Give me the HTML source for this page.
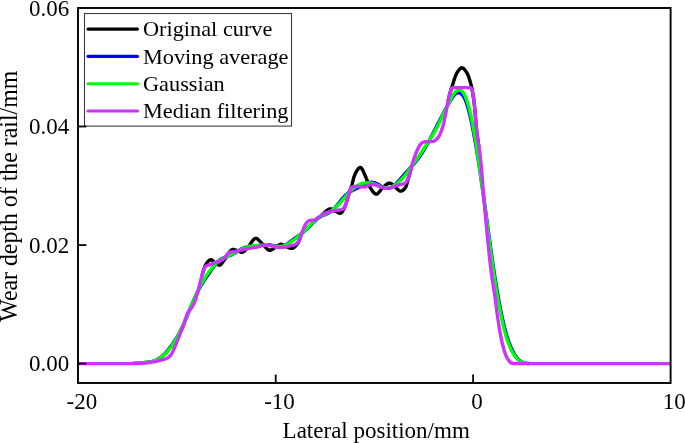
<!DOCTYPE html>
<html><head><meta charset="utf-8"><title>Wear depth</title>
<style>
html,body{margin:0;padding:0;background:#fff;}
body{width:685px;height:443px;overflow:hidden;position:relative;font-family:"Liberation Serif",serif;}
svg{position:absolute;left:0;top:0;display:block;}
text{font-family:"Liberation Serif",serif;font-size:23px;fill:#000;}
.lg text{font-size:21.55px;}
.c{fill:none;stroke-width:3.4;stroke-linejoin:round;stroke-linecap:butt;}
</style></head><body>
<svg width="685" height="443" viewBox="0 0 685 443">
<rect x="0" y="0" width="685" height="443" fill="#fff"/>
<clipPath id="cp"><rect x="78.0" y="8.0" width="592.6" height="375.0"/></clipPath>
<g clip-path="url(#cp)">
<path class="c" stroke="#000000" d="M202.0,275.57 L203.0,272.09 L204.0,268.90 L205.0,266.16 L206.0,264.26 L207.0,262.75 L208.0,261.46 L209.0,260.45 L210.0,259.83 L211.0,259.69 L212.0,260.11 L213.0,260.93 L214.0,261.87 L215.0,262.69 L216.0,263.40 L217.0,264.12 L218.0,264.73 L219.0,265.09 L220.0,265.01 L221.0,264.30 L222.0,263.10 L223.0,261.67 L224.0,260.26 L225.0,258.95 L226.0,257.53 L227.0,255.95 L228.0,254.33 L229.0,252.78 L230.0,251.41 L231.0,250.32 L232.0,249.65 L233.0,249.44 L234.0,249.56 L235.0,249.82 L236.0,250.17 L237.0,250.53 L238.0,250.90 L239.0,251.36 L240.0,251.84 L241.0,252.21 L242.0,252.35 L243.0,252.08 L244.0,251.41 L245.0,250.48 L246.0,249.43 L247.0,248.39 L248.0,247.29 L249.0,245.98 L250.0,244.50 L251.0,242.97 L252.0,241.51 L253.0,240.21 L254.0,239.18 L255.0,238.54 L256.0,238.37 L257.0,238.70 L258.0,239.40 L259.0,240.36 L260.0,241.44 L261.0,242.52 L262.0,243.50 L263.0,244.47 L264.0,245.56 L265.0,246.71 L266.0,247.83 L267.0,248.83 L268.0,249.62 L269.0,250.12 L270.0,250.25 L271.0,250.03 L272.0,249.57 L273.0,248.94 L274.0,248.26 L275.0,247.60 L276.0,246.99 L277.0,246.31 L278.0,245.59 L279.0,244.94 L280.0,244.45 L281.0,244.25 L282.0,244.42 L283.0,244.90 L284.0,245.53 L285.0,246.14 L286.0,246.61 L287.0,247.01 L288.0,247.41 L289.0,247.76 L290.0,248.05 L291.0,248.23 L292.0,248.25 L293.0,247.99 L294.0,247.42 L295.0,246.59 L296.0,245.56 L297.0,244.39 L298.0,242.93 L299.0,240.80 L300.0,238.19 L301.0,235.49 M321.0,215.56 L322.0,214.81 L323.0,214.02 L324.0,213.14 L325.0,212.16 L326.0,211.20 L327.0,210.42 L328.0,209.78 L329.0,209.23 L330.0,208.90 L331.0,208.89 L332.0,209.20 L333.0,209.73 L334.0,210.34 L335.0,210.93 L336.0,211.46 L337.0,212.01 L338.0,212.56 L339.0,213.01 L340.0,213.23 L341.0,212.97 L342.0,212.00 L343.0,210.46 L344.0,208.58 L345.0,206.47 L346.0,203.75 L347.0,200.46 L348.0,197.05 L349.0,193.59 L350.0,190.42 L351.0,187.82 L352.0,184.68 L353.0,180.53 L354.0,176.81 L355.0,174.34 L356.0,172.33 L357.0,170.55 L358.0,169.09 L359.0,168.05 L360.0,167.53 L361.0,167.74 L362.0,168.85 L363.0,170.68 L364.0,172.90 L365.0,175.20 L366.0,177.50 L367.0,180.14 L368.0,182.91 L369.0,185.36 L370.0,187.24 L371.0,188.86 L372.0,190.40 L373.0,191.78 L374.0,192.92 L375.0,193.73 L376.0,194.11 L377.0,193.98 L378.0,193.33 L379.0,192.29 L380.0,191.04 L381.0,189.72 L382.0,188.51 L383.0,187.53 L384.0,186.64 L385.0,185.72 L386.0,184.84 L387.0,184.06 L388.0,183.46 L389.0,183.11 L390.0,183.10 L391.0,183.49 L392.0,184.21 L393.0,185.11 L394.0,186.06 L395.0,186.94 L396.0,187.77 L397.0,188.71 L398.0,189.65 L399.0,190.46 L400.0,190.99 L401.0,191.14 L402.0,190.89 L403.0,190.29 L404.0,189.38 L405.0,188.21 L406.0,186.56 L407.0,183.40 L408.0,179.54 L409.0,176.25 L410.0,172.86 L411.0,168.77 M448.0,101.55 L449.0,96.86 L450.0,93.01 L451.0,89.75 L452.0,86.67 L453.0,83.49 L454.0,80.27 L455.0,77.26 L456.0,74.71 L457.0,72.79 L458.0,71.25 L459.0,69.88 L460.0,68.75 L461.0,68.01 L462.0,67.78 L463.0,68.11 L464.0,68.93 L465.0,70.11 L466.0,71.53 L467.0,73.12 L468.0,75.11 L469.0,77.71 L470.0,80.90 L471.0,84.62 L472.0,88.97 L473.0,94.66 L474.0,101.44 L475.0,111.16 L476.0,124.12 L477.0,133.78 L478.0,140.96 L479.0,147.44"/>
<path class="c" stroke="#0000ff" d="M132.0,363.41 L133.0,363.37 L134.0,363.33 L135.0,363.29 L136.0,363.23 L137.0,363.18 L138.0,363.11 L139.0,363.05 L140.0,362.97 L141.0,362.89 L142.0,362.80 L143.0,362.70 L144.0,362.60 L145.0,362.49 L146.0,362.37 L147.0,362.25 L148.0,362.11 L149.0,361.96 L150.0,361.80 L151.0,361.61 L152.0,361.40 L153.0,361.14 L154.0,360.84 L155.0,360.48 L156.0,360.07 L157.0,359.59 L158.0,359.04 L159.0,358.43 L160.0,357.76 L161.0,357.03 L162.0,356.23 L163.0,355.37 L164.0,354.45 L165.0,353.45 L166.0,352.38 L167.0,351.23 L168.0,350.01 L169.0,348.72 L170.0,347.40 L171.0,346.05 L172.0,344.67 L173.0,343.26 L174.0,341.81 L175.0,340.32 L176.0,338.78 L177.0,337.17 L178.0,335.49 L179.0,333.71 L180.0,331.85 L181.0,329.89 L182.0,327.84 L183.0,325.69 L184.0,323.46 L185.0,321.15 L186.0,318.78 L187.0,316.36 L188.0,313.91 L189.0,311.44 L190.0,308.97 L191.0,306.51 L192.0,304.09 L193.0,301.73 L194.0,299.44 L195.0,297.24 L196.0,295.12 L197.0,293.09 L198.0,291.15 L199.0,289.28 L200.0,287.50 L201.0,285.77 L202.0,284.10 L203.0,282.47 L204.0,280.89 L205.0,279.35 L206.0,277.85 L207.0,276.39 L208.0,274.94 L209.0,273.49 L210.0,272.03 L211.0,270.56 L212.0,269.10 L213.0,267.66 L214.0,266.27 L215.0,264.94 L216.0,263.70 L217.0,262.56 L218.0,261.52 L219.0,260.59 L220.0,259.77 L221.0,259.06 L222.0,258.47 L223.0,257.96 L224.0,257.54 L225.0,257.17 L226.0,256.83 L227.0,256.49 L228.0,256.17 L229.0,255.84 L230.0,255.49 L231.0,255.11 L232.0,254.68 L233.0,254.19 L234.0,253.63 L235.0,253.03 L236.0,252.39 L237.0,251.72 L238.0,251.04 L239.0,250.36 L240.0,249.71 L241.0,249.11 L242.0,248.57 L243.0,248.09 L244.0,247.68 L245.0,247.33 L246.0,247.04 L247.0,246.82 L248.0,246.67 L249.0,246.59 L250.0,246.56 L251.0,246.56 L252.0,246.57 L253.0,246.58 L254.0,246.57 L255.0,246.53 L256.0,246.47 L257.0,246.38 L258.0,246.27 L259.0,246.13 L260.0,245.95 L261.0,245.75 M267.0,244.91 L268.0,244.90 L269.0,244.94 L270.0,245.03 L271.0,245.16 L272.0,245.34 L273.0,245.55 L274.0,245.78 L275.0,246.02 L276.0,246.24 L277.0,246.43 L278.0,246.57 L279.0,246.65 L280.0,246.65 L281.0,246.56 L282.0,246.37 L283.0,246.09 L284.0,245.71 L285.0,245.22 L286.0,244.65 L287.0,244.01 L288.0,243.31 L289.0,242.58 L290.0,241.82 L291.0,241.06 L292.0,240.30 L293.0,239.56 L294.0,238.83 L295.0,238.12 L296.0,237.42 L297.0,236.72 L298.0,236.02 L299.0,235.33 L300.0,234.62 L301.0,233.90 L302.0,233.16 L303.0,232.38 L304.0,231.57 L305.0,230.72 L306.0,229.83 L307.0,228.91 L308.0,227.95 L309.0,226.97 L310.0,225.97 L311.0,224.95 L312.0,223.93 L313.0,222.92 L314.0,221.94 L315.0,220.99 L316.0,220.09 L317.0,219.23 L318.0,218.43 L319.0,217.70 L320.0,217.05 L321.0,216.48 L322.0,215.98 L323.0,215.54 L324.0,215.12 L325.0,214.71 L326.0,214.29 L327.0,213.84 L328.0,213.33 L329.0,212.74 L330.0,212.08 L331.0,211.33 L332.0,210.52 L333.0,209.63 L334.0,208.65 L335.0,207.57 L336.0,206.43 L337.0,205.25 L338.0,204.04 L339.0,202.82 L340.0,201.58 L341.0,200.33 L342.0,199.11 L343.0,197.93 L344.0,196.81 L345.0,195.77 L346.0,194.82 L347.0,193.94 L348.0,193.14 L349.0,192.44 L350.0,191.80 L351.0,191.22 L352.0,190.68 L353.0,190.16 L354.0,189.66 L355.0,189.18 L356.0,188.71 L357.0,188.24 L358.0,187.76 L359.0,187.25 L360.0,186.72 L361.0,186.17 L362.0,185.61 L363.0,185.05 L364.0,184.52 L365.0,184.02 L366.0,183.58 L367.0,183.19 L368.0,182.87 L369.0,182.62 L370.0,182.44 L371.0,182.33 L372.0,182.31 L373.0,182.41 L374.0,182.62 L375.0,182.93 L376.0,183.30 L377.0,183.75 L378.0,184.25 L379.0,184.80 L380.0,185.39 L381.0,185.99 L382.0,186.56 L383.0,187.08 L384.0,187.53 L385.0,187.90 L386.0,188.18 L387.0,188.36 L388.0,188.40 L389.0,188.28 L390.0,188.02 L391.0,187.63 L392.0,187.11 L393.0,186.44 L394.0,185.65 L395.0,184.76 L396.0,183.79 L397.0,182.76 L398.0,181.68 L399.0,180.56 L400.0,179.43 L401.0,178.29 L402.0,177.14 L403.0,175.99 L404.0,174.85 L405.0,173.72 L406.0,172.60 L407.0,171.51 L408.0,170.42 L409.0,169.35 L410.0,168.27 L411.0,167.18 L412.0,166.07 L413.0,164.94 L414.0,163.78 L415.0,162.58 L416.0,161.36 L417.0,160.09 L418.0,158.78 L419.0,157.42 L420.0,156.00 L421.0,154.55 L422.0,153.04 L423.0,151.48 L424.0,149.87 L425.0,148.19 L426.0,146.44 L427.0,144.65 L428.0,142.83 L429.0,140.95 L430.0,139.03 L431.0,137.11 L432.0,135.21 L433.0,133.30 L434.0,131.40 L435.0,129.48 L436.0,127.54 L437.0,125.60 L438.0,123.65 L439.0,121.72 L440.0,119.78 L441.0,117.85 L442.0,115.91 L443.0,113.98 L444.0,112.06 L445.0,110.16 L446.0,108.28 L447.0,106.45 L448.0,104.65 L449.0,102.90 L450.0,101.22 L451.0,99.61 L452.0,98.09 L453.0,96.69 L454.0,95.43 L455.0,94.35 L456.0,93.50 L457.0,93.00 L458.0,92.82 L459.0,92.88 L460.0,93.17 L461.0,93.70 L462.0,94.51 L463.0,95.68 L464.0,97.28 L465.0,99.33 L466.0,101.81 L467.0,104.72 L468.0,108.03 L469.0,111.74 L470.0,115.81 L471.0,120.20 L472.0,124.90 L473.0,129.89 L474.0,135.14 L475.0,140.62 L476.0,146.34 L477.0,152.29 L478.0,158.49 L479.0,164.92 L480.0,171.54 L481.0,178.34 L482.0,185.29 L483.0,192.36 L484.0,199.52 L485.0,206.74 L486.0,214.02 L487.0,221.34 L488.0,228.65 L489.0,235.94 L490.0,243.19 L491.0,250.37 L492.0,257.46 L493.0,264.42 L494.0,271.19 L495.0,277.70 L496.0,283.89 L497.0,289.83 L498.0,295.59 L499.0,301.19 L500.0,306.59 L501.0,311.75 L502.0,316.61 L503.0,321.14 L504.0,325.35 L505.0,329.27 L506.0,332.92 L507.0,336.29 L508.0,339.39 L509.0,342.24 L510.0,344.85 L511.0,347.25 L512.0,349.45 L513.0,351.49 L514.0,353.38 L515.0,355.08 L516.0,356.58 L517.0,357.88 L518.0,359.00 L519.0,359.96 L520.0,360.76 L521.0,361.43 L522.0,361.97 L523.0,362.41 L524.0,362.76 L525.0,363.02 L526.0,363.22 L527.0,363.36 L528.0,363.47 L529.0,363.53"/>
<path class="c" stroke="#00ff00" d="M132.0,363.43 L133.0,363.39 L134.0,363.36 L135.0,363.31 L136.0,363.27 L137.0,363.21 L138.0,363.15 L139.0,363.09 L140.0,363.02 L141.0,362.94 L142.0,362.85 L143.0,362.76 L144.0,362.66 L145.0,362.55 L146.0,362.43 L147.0,362.30 L148.0,362.16 L149.0,362.01 L150.0,361.84 L151.0,361.64 L152.0,361.41 L153.0,361.15 L154.0,360.85 L155.0,360.50 L156.0,360.11 L157.0,359.67 L158.0,359.18 L159.0,358.64 L160.0,358.03 L161.0,357.37 L162.0,356.65 L163.0,355.85 L164.0,354.99 L165.0,354.05 L166.0,353.02 L167.0,351.93 L168.0,350.77 L169.0,349.55 L170.0,348.26 L171.0,346.92 L172.0,345.52 L173.0,344.05 L174.0,342.52 L175.0,340.93 L176.0,339.26 L177.0,337.51 L178.0,335.69 L179.0,333.79 L180.0,331.82 L181.0,329.77 L182.0,327.65 L183.0,325.47 L184.0,323.22 L185.0,320.93 L186.0,318.59 L187.0,316.22 L188.0,313.82 L189.0,311.40 L190.0,308.97 L191.0,306.55 L192.0,304.15 L193.0,301.78 L194.0,299.46 L195.0,297.18 L196.0,294.95 L197.0,292.79 L198.0,290.69 L199.0,288.66 L200.0,286.70 L201.0,284.79 L202.0,282.94 L203.0,281.16 L204.0,279.43 L205.0,277.78 L206.0,276.19 L207.0,274.66 L208.0,273.20 L209.0,271.80 L210.0,270.45 L211.0,269.15 L212.0,267.90 L213.0,266.70 L214.0,265.57 L215.0,264.50 L216.0,263.49 L217.0,262.55 L218.0,261.68 L219.0,260.89 L220.0,260.16 L221.0,259.50 L222.0,258.90 L223.0,258.35 L224.0,257.84 L225.0,257.36 L226.0,256.90 L227.0,256.46 L228.0,256.02 L229.0,255.58 L230.0,255.13 L231.0,254.66 L232.0,254.18 L233.0,253.68 L234.0,253.15 L235.0,252.61 L236.0,252.06 L237.0,251.50 L238.0,250.94 L239.0,250.39 L240.0,249.86 L241.0,249.34 L242.0,248.85 L243.0,248.39 L244.0,247.97 L245.0,247.59 L246.0,247.25 L247.0,246.95 L248.0,246.70 L249.0,246.48 L250.0,246.29 L251.0,246.13 L252.0,246.00 L253.0,245.89 L254.0,245.79 L255.0,245.70 L256.0,245.62 L257.0,245.54 L258.0,245.47 L259.0,245.40 L260.0,245.33 L261.0,245.28 L262.0,245.24 L263.0,245.21 L264.0,245.20 L265.0,245.22 L266.0,245.25 L267.0,245.31 L268.0,245.38 L269.0,245.48 L270.0,245.59 L271.0,245.71 L272.0,245.85 L273.0,245.98 L274.0,246.12 L275.0,246.25 L276.0,246.37 L277.0,246.46 L278.0,246.51 L279.0,246.51 L280.0,246.46 L281.0,246.34 L282.0,246.16 L283.0,245.91 L284.0,245.60 L285.0,245.22 L286.0,244.79 L287.0,244.31 L288.0,243.77 L289.0,243.19 L290.0,242.57 L291.0,241.91 L292.0,241.22 L293.0,240.51 L294.0,239.77 L295.0,239.01 L296.0,238.23 L297.0,237.42 L298.0,236.58 L299.0,235.73 L300.0,234.85 L301.0,233.96 L302.0,233.05 L303.0,232.12 L304.0,231.17 L305.0,230.19 L306.0,229.21 L307.0,228.21 L308.0,227.20 L309.0,226.20 L310.0,225.20 L311.0,224.22 L312.0,223.26 L313.0,222.32 L314.0,221.42 L315.0,220.55 L316.0,219.73 L317.0,218.95 L318.0,218.22 L319.0,217.53 L320.0,216.90 L321.0,216.31 L322.0,215.77 L323.0,215.25 L324.0,214.77 L325.0,214.29 L326.0,213.82 L327.0,213.33 L328.0,212.82 L329.0,212.28 L330.0,211.70 L331.0,211.08 L332.0,210.39 L333.0,209.64 L334.0,208.83 L335.0,207.95 L336.0,207.02 L337.0,206.03 L338.0,205.00 L339.0,203.92 L340.0,202.80 L341.0,201.65 L342.0,200.49 L343.0,199.32 L344.0,198.15 L345.0,196.98 L346.0,195.84 L347.0,194.72 L348.0,193.64 L349.0,192.60 L350.0,191.59 L351.0,190.63 L352.0,189.72 L353.0,188.86 L354.0,188.05 L355.0,187.30 L356.0,186.60 L357.0,185.96 L358.0,185.37 L359.0,184.84 L360.0,184.36 L361.0,183.94 L362.0,183.57 L363.0,183.27 L364.0,183.04 L365.0,182.87 L366.0,182.76 L367.0,182.72 L368.0,182.74 L369.0,182.82 L370.0,182.95 L371.0,183.14 L372.0,183.38 L373.0,183.65 L374.0,183.96 L375.0,184.31 L376.0,184.68 L377.0,185.06 L378.0,185.45 L379.0,185.84 L380.0,186.22 L381.0,186.58 L382.0,186.91 L383.0,187.20 L384.0,187.45 L385.0,187.63 L386.0,187.74 L387.0,187.77 L388.0,187.72 L389.0,187.58 L390.0,187.35 L391.0,187.03 L392.0,186.63 L393.0,186.15 L394.0,185.59 L395.0,184.96 L396.0,184.25 L397.0,183.47 L398.0,182.62 L399.0,181.71 L400.0,180.75 L401.0,179.74 L402.0,178.67 L403.0,177.57 L404.0,176.42 L405.0,175.23 L406.0,174.00 L407.0,172.73 L408.0,171.43 L409.0,170.10 L410.0,168.75 L411.0,167.37 L412.0,165.97 L413.0,164.56 L414.0,163.12 L415.0,161.68 L416.0,160.22 L417.0,158.77 L418.0,157.31 L419.0,155.85 L420.0,154.39 L421.0,152.93 L422.0,151.47 L423.0,150.01 L424.0,148.53 L425.0,147.03 L426.0,145.51 L427.0,143.96 L428.0,142.39 L429.0,140.80 L430.0,139.20 L431.0,137.59 L432.0,135.94 L433.0,134.27 L434.0,132.56 L435.0,130.81 L436.0,129.00 L437.0,127.14 L438.0,125.24 L439.0,123.28 L440.0,121.28 L441.0,119.23 L442.0,117.15 L443.0,115.04 L444.0,112.90 L445.0,110.76 L446.0,108.61 L447.0,106.48 L448.0,104.38 L449.0,102.32 L450.0,100.33 L451.0,98.42 L452.0,96.64 L453.0,94.99 L454.0,93.52 L455.0,92.30 L456.0,91.34 L457.0,90.62 L458.0,90.14 L459.0,89.93 L460.0,90.01 L461.0,90.43 L462.0,91.22 L463.0,92.40 L464.0,93.97 L465.0,95.95 L466.0,98.35 L467.0,101.17 L468.0,104.40 L469.0,108.06 L470.0,112.11 L471.0,116.54 L472.0,121.33 L473.0,126.44 L474.0,131.88 L475.0,137.64 L476.0,143.71 L477.0,150.07 L478.0,156.69 L479.0,163.54 L480.0,170.60 L481.0,177.84 L482.0,185.23 L483.0,192.74 L484.0,200.33 L485.0,207.99 L486.0,215.66 L487.0,223.33 L488.0,230.97 L489.0,238.54 L490.0,246.03 L491.0,253.40 L492.0,260.62 L493.0,267.68 L494.0,274.54 L495.0,281.18 L496.0,287.57 L497.0,293.67 L498.0,299.46 L499.0,304.99 L500.0,310.26 L501.0,315.27 L502.0,320.01 L503.0,324.45 L504.0,328.58 L505.0,332.39 L506.0,335.90 L507.0,339.13 L508.0,342.09 L509.0,344.79 L510.0,347.24 L511.0,349.45 L512.0,351.44 L513.0,353.23 L514.0,354.84 L515.0,356.28 L516.0,357.55 L517.0,358.67 L518.0,359.62 L519.0,360.43 L520.0,361.11 L521.0,361.68 L522.0,362.14 L523.0,362.51 L524.0,362.80 L525.0,363.03 L526.0,363.21 L527.0,363.34 L528.0,363.43 L529.0,363.50"/>
<path class="c" stroke="#cc33ff" d="M78.0,363.60 L79.0,363.60 L80.0,363.60 L81.0,363.60 L82.0,363.60 L83.0,363.60 L84.0,363.60 L85.0,363.60 L86.0,363.60 L87.0,363.60 L88.0,363.60 L89.0,363.60 L90.0,363.60 L91.0,363.60 L92.0,363.60 L93.0,363.60 L94.0,363.60 L95.0,363.60 L96.0,363.60 L97.0,363.60 L98.0,363.60 L99.0,363.60 L100.0,363.60 L101.0,363.60 L102.0,363.60 L103.0,363.60 L104.0,363.60 L105.0,363.60 L106.0,363.60 L107.0,363.60 L108.0,363.60 L109.0,363.60 L110.0,363.60 L111.0,363.60 L112.0,363.60 L113.0,363.60 L114.0,363.60 L115.0,363.60 L116.0,363.60 L117.0,363.60 L118.0,363.60 L119.0,363.60 L120.0,363.60 L121.0,363.60 L122.0,363.60 L123.0,363.60 L124.0,363.60 L125.0,363.60 L126.0,363.60 L127.0,363.60 L128.0,363.60 L129.0,363.60 L130.0,363.60 L131.0,363.60 L132.0,363.60 L133.0,363.60 L134.0,363.60 L135.0,363.59 L136.0,363.58 L137.0,363.55 L138.0,363.52 L139.0,363.47 L140.0,363.42 L141.0,363.37 L142.0,363.30 L143.0,363.24 L144.0,363.17 L145.0,363.10 L146.0,363.01 L147.0,362.91 L148.0,362.77 L149.0,362.63 L150.0,362.47 L151.0,362.29 L152.0,362.12 L153.0,361.94 L154.0,361.75 L155.0,361.55 L156.0,361.33 L157.0,361.10 L158.0,360.86 L159.0,360.60 L160.0,360.34 L161.0,360.07 L162.0,359.80 L163.0,359.53 L164.0,359.26 L165.0,358.97 L166.0,358.63 L167.0,358.23 L168.0,357.71 L169.0,357.00 L170.0,356.08 L171.0,354.81 L172.0,353.18 L173.0,351.30 L174.0,349.03 L175.0,346.59 L176.0,344.14 L177.0,341.61 L178.0,339.06 L179.0,336.56 L180.0,334.13 L181.0,331.71 L182.0,329.25 L183.0,326.64 L184.0,323.70 L185.0,320.52 L186.0,317.39 L187.0,314.59 L188.0,312.41 L189.0,310.92 L190.0,309.77 L191.0,308.62 L192.0,307.15 L193.0,305.40 L194.0,303.38 L195.0,301.03 L196.0,298.11 L197.0,294.58 L198.0,290.84 L199.0,287.07 L200.0,283.14 L201.0,279.24 L202.0,275.51 L203.0,271.88 L204.0,269.11 L205.0,267.09 L206.0,266.03 L207.0,265.53 L208.0,265.19 L209.0,264.91 L210.0,264.60 L211.0,264.23 L212.0,263.83 L213.0,263.43 L214.0,263.03 L215.0,262.62 L216.0,262.21 L217.0,261.80 L218.0,261.41 L219.0,261.06 L220.0,260.73 L221.0,260.38 L222.0,259.97 L223.0,259.46 L224.0,258.73 L225.0,257.46 L226.0,255.95 L227.0,254.63 L228.0,253.39 L229.0,252.52 L230.0,252.20 L231.0,252.01 L232.0,251.87 L233.0,251.76 L234.0,251.66 L235.0,251.54 L236.0,251.38 L237.0,251.17 L238.0,250.94 L239.0,250.69 L240.0,250.42 L241.0,250.15 L242.0,249.88 L243.0,249.63 L244.0,249.40 L245.0,249.18 L246.0,248.97 L247.0,248.75 L248.0,248.55 L249.0,248.35 L250.0,248.16 L251.0,247.99 L252.0,247.83 L253.0,247.70 L254.0,247.59 L255.0,247.48 L256.0,247.35 L257.0,247.13 L258.0,246.81 L259.0,246.44 L260.0,246.11 L261.0,245.85 L262.0,245.59 L263.0,245.35 L264.0,245.13 L265.0,244.98 L266.0,244.91 L267.0,244.93 L268.0,245.04 L269.0,245.20 L270.0,245.40 L271.0,245.62 L272.0,245.86 L273.0,246.23 L274.0,246.65 L275.0,247.02 L276.0,247.26 L277.0,247.30 L278.0,247.30 L279.0,247.30 L280.0,247.30 L281.0,247.30 L282.0,247.30 L283.0,247.30 L284.0,247.28 L285.0,247.17 L286.0,246.96 L287.0,246.69 L288.0,246.39 L289.0,246.09 L290.0,245.83 L291.0,245.61 L292.0,245.40 L293.0,245.17 L294.0,244.91 L295.0,244.58 L296.0,244.13 L297.0,243.34 L298.0,242.15 L299.0,240.49 L300.0,238.12 L301.0,235.49 L302.0,232.70 L303.0,229.80 L304.0,227.32 L305.0,225.31 L306.0,223.57 L307.0,222.31 L308.0,221.48 L309.0,220.85 L310.0,220.45 L311.0,220.29 L312.0,220.21 L313.0,220.15 L314.0,220.04 L315.0,219.77 L316.0,219.19 L317.0,218.45 L318.0,217.68 L319.0,216.99 L320.0,216.26 L321.0,215.51 L322.0,214.81 L323.0,214.21 L324.0,213.72 L325.0,213.29 L326.0,212.89 L327.0,212.53 L328.0,212.19 L329.0,211.89 L330.0,211.62 L331.0,211.39 L332.0,211.18 L333.0,210.99 L334.0,210.82 L335.0,210.66 L336.0,210.50 L337.0,210.33 L338.0,210.15 L339.0,210.00 L340.0,209.85 L341.0,209.69 L342.0,209.45 L343.0,209.06 L344.0,208.03 L345.0,206.35 L346.0,204.04 L347.0,200.64 L348.0,197.05 L349.0,193.51 L350.0,190.32 L351.0,187.85 L352.0,186.82 L353.0,186.51 L354.0,186.50 L355.0,186.50 L356.0,186.50 L357.0,186.50 L358.0,186.50 L359.0,186.52 L360.0,186.59 L361.0,186.70 L362.0,186.82 L363.0,186.92 L364.0,186.99 L365.0,186.93 L366.0,186.59 L367.0,186.14 L368.0,185.61 L369.0,184.96 L370.0,184.45 L371.0,184.31 L372.0,184.38 L373.0,184.51 L374.0,184.67 L375.0,184.87 L376.0,185.15 L377.0,185.53 L378.0,185.95 L379.0,186.39 L380.0,186.79 L381.0,187.13 L382.0,187.45 L383.0,187.76 L384.0,188.00 L385.0,188.10 L386.0,188.10 L387.0,188.10 L388.0,188.10 L389.0,188.09 L390.0,187.96 L391.0,187.63 L392.0,187.22 L393.0,186.84 L394.0,186.51 L395.0,186.17 L396.0,185.83 L397.0,185.50 L398.0,185.18 L399.0,184.88 L400.0,184.63 L401.0,184.43 L402.0,184.25 L403.0,184.03 L404.0,183.74 L405.0,183.27 L406.0,182.43 L407.0,180.87 L408.0,178.41 L409.0,175.89 L410.0,172.93 L411.0,168.82 L412.0,164.69 L413.0,161.38 L414.0,158.44 L415.0,155.74 L416.0,153.17 L417.0,150.71 L418.0,148.47 L419.0,146.61 L420.0,145.02 L421.0,143.66 L422.0,142.78 L423.0,142.32 L424.0,141.98 L425.0,141.77 L426.0,141.69 L427.0,141.67 L428.0,141.66 L429.0,141.65 L430.0,141.64 L431.0,141.62 L432.0,141.58 L433.0,141.38 L434.0,140.98 L435.0,140.45 L436.0,139.82 L437.0,138.91 L438.0,137.64 L439.0,136.12 L440.0,134.23 L441.0,131.89 L442.0,129.17 L443.0,125.90 L444.0,121.96 L445.0,117.20 L446.0,112.07 L447.0,106.76 L448.0,101.45 L449.0,96.75 L450.0,92.78 L451.0,89.47 L452.0,87.99 L453.0,87.61 L454.0,87.60 L455.0,87.60 L456.0,87.60 L457.0,87.60 L458.0,87.60 L459.0,87.60 L460.0,87.60 L461.0,87.60 L462.0,87.60 L463.0,87.60 L464.0,87.60 L465.0,87.60 L466.0,87.60 L467.0,87.60 L468.0,87.60 L469.0,87.60 L470.0,87.60 L471.0,87.91 L472.0,89.46 L473.0,94.59 L474.0,101.16 L475.0,110.65 L476.0,124.60 L477.0,133.95 L478.0,141.02 L479.0,147.39 L480.0,154.37 L481.0,163.30 L482.0,174.89 L483.0,187.76 L484.0,200.07 L485.0,211.14 L486.0,221.99 L487.0,232.64 L488.0,242.96 L489.0,252.79 L490.0,262.02 L491.0,270.49 L492.0,278.03 L493.0,284.27 L494.0,290.13 L495.0,297.06 L496.0,304.90 L497.0,312.72 L498.0,319.67 L499.0,326.01 L500.0,331.99 L501.0,337.43 L502.0,342.13 L503.0,346.19 L504.0,349.93 L505.0,353.22 L506.0,355.86 L507.0,357.79 L508.0,359.44 L509.0,360.92 L510.0,362.12 L511.0,362.94 L512.0,363.31 L513.0,363.43 L514.0,363.52 L515.0,363.58 L516.0,363.60 L517.0,363.60 L518.0,363.60 L519.0,363.60 L520.0,363.60 L521.0,363.60 L522.0,363.60 L523.0,363.60 L524.0,363.60 L525.0,363.60 L526.0,363.60 L527.0,363.60 L528.0,363.60 L529.0,363.60 L530.0,363.60 L531.0,363.60 L532.0,363.60 L533.0,363.60 L534.0,363.60 L535.0,363.60 L536.0,363.60 L537.0,363.60 L538.0,363.60 L539.0,363.60 L540.0,363.60 L541.0,363.60 L542.0,363.60 L543.0,363.60 L544.0,363.60 L545.0,363.60 L546.0,363.60 L547.0,363.60 L548.0,363.60 L549.0,363.60 L550.0,363.60 L551.0,363.60 L552.0,363.60 L553.0,363.60 L554.0,363.60 L555.0,363.60 L556.0,363.60 L557.0,363.60 L558.0,363.60 L559.0,363.60 L560.0,363.60 L561.0,363.60 L562.0,363.60 L563.0,363.60 L564.0,363.60 L565.0,363.60 L566.0,363.60 L567.0,363.60 L568.0,363.60 L569.0,363.60 L570.0,363.60 L571.0,363.60 L572.0,363.60 L573.0,363.60 L574.0,363.60 L575.0,363.60 L576.0,363.60 L577.0,363.60 L578.0,363.60 L579.0,363.60 L580.0,363.60 L581.0,363.60 L582.0,363.60 L583.0,363.60 L584.0,363.60 L585.0,363.60 L586.0,363.60 L587.0,363.60 L588.0,363.60 L589.0,363.60 L590.0,363.60 L591.0,363.60 L592.0,363.60 L593.0,363.60 L594.0,363.60 L595.0,363.60 L596.0,363.60 L597.0,363.60 L598.0,363.60 L599.0,363.60 L600.0,363.60 L601.0,363.60 L602.0,363.60 L603.0,363.60 L604.0,363.60 L605.0,363.60 L606.0,363.60 L607.0,363.60 L608.0,363.60 L609.0,363.60 L610.0,363.60 L611.0,363.60 L612.0,363.60 L613.0,363.60 L614.0,363.60 L615.0,363.60 L616.0,363.60 L617.0,363.60 L618.0,363.60 L619.0,363.60 L620.0,363.60 L621.0,363.60 L622.0,363.60 L623.0,363.60 L624.0,363.60 L625.0,363.60 L626.0,363.60 L627.0,363.60 L628.0,363.60 L629.0,363.60 L630.0,363.60 L631.0,363.60 L632.0,363.60 L633.0,363.60 L634.0,363.60 L635.0,363.60 L636.0,363.60 L637.0,363.60 L638.0,363.60 L639.0,363.60 L640.0,363.60 L641.0,363.60 L642.0,363.60 L643.0,363.60 L644.0,363.60 L645.0,363.60 L646.0,363.60 L647.0,363.60 L648.0,363.60 L649.0,363.60 L650.0,363.60 L651.0,363.60 L652.0,363.60 L653.0,363.60 L654.0,363.60 L655.0,363.60 L656.0,363.60 L657.0,363.60 L658.0,363.60 L659.0,363.60 L660.0,363.60 L661.0,363.60 L662.0,363.60 L663.0,363.60 L664.0,363.60 L665.0,363.60 L666.0,363.60 L667.0,363.60 L668.0,363.60 L669.0,363.60 L670.0,363.60"/>
</g>
<!-- legend -->
<rect x="84.5" y="13.5" width="207" height="112.6" fill="#fff" stroke="#3c3c3c" stroke-width="1.1"/>
<!-- ticks -->
<g stroke="#000" stroke-width="1.8" fill="none">
<line x1="78.0" y1="126.5" x2="86.4" y2="126.5"/>
<line x1="78.0" y1="245.1" x2="86.4" y2="245.1"/>
<line x1="78.0" y1="363.6" x2="86.4" y2="363.6"/>
<line x1="275.7" y1="383.0" x2="275.7" y2="374.6"/>
<line x1="473.1" y1="383.0" x2="473.1" y2="374.6"/>
</g>
<rect x="78.0" y="8.0" width="592.6" height="375.0" fill="none" stroke="#000" stroke-width="1.9"/>
<g stroke-width="3.1" stroke-linecap="round">
<line x1="88" y1="29.1" x2="137.5" y2="29.1" stroke="#000"/>
<line x1="88" y1="56.4" x2="137.5" y2="56.4" stroke="#0000ff"/>
<line x1="88" y1="83.7" x2="137.5" y2="83.7" stroke="#00ff00"/>
<line x1="88" y1="111.0" x2="137.5" y2="111.0" stroke="#cc33ff"/>
</g>
<g class="lg">
<text transform="translate(143.0,36.4) scale(1.035,0.97)">Original curve</text>
<text transform="translate(143.0,63.7) scale(1.035,0.97)">Moving average</text>
<text transform="translate(143.0,91.0) scale(1.035,0.97)">Gaussian</text>
<text transform="translate(143.0,118.3) scale(1.035,0.97)">Median filtering</text>
</g>
<!-- y tick labels -->
<g text-anchor="end">
<text transform="translate(69.2,15.7) scale(1,1.045)">0.06</text>
<text transform="translate(69.2,134.0) scale(1,1.045)">0.04</text>
<text transform="translate(69.2,252.6) scale(1,1.045)">0.02</text>
<text transform="translate(69.2,371.1) scale(1,1.045)">0.00</text>
</g>
<!-- x tick labels -->
<g text-anchor="middle">
<text transform="translate(81.9,409.4) scale(1,1.02)">-20</text>
<text transform="translate(279.5,409.4) scale(1,1.02)">-10</text>
<text transform="translate(477.0,409.4) scale(1,1.02)">0</text>
<text transform="translate(674.2,409.4) scale(1,1.02)">10</text>
</g>
<!-- axis labels -->
<text x="376.2" y="437.5" text-anchor="middle">Lateral position/mm</text>
<text transform="translate(17.0,321.7) rotate(-90) scale(1,1.07)" style="font-size:23.85px">Wear depth of the rail/mm</text>
</svg>
</body></html>
